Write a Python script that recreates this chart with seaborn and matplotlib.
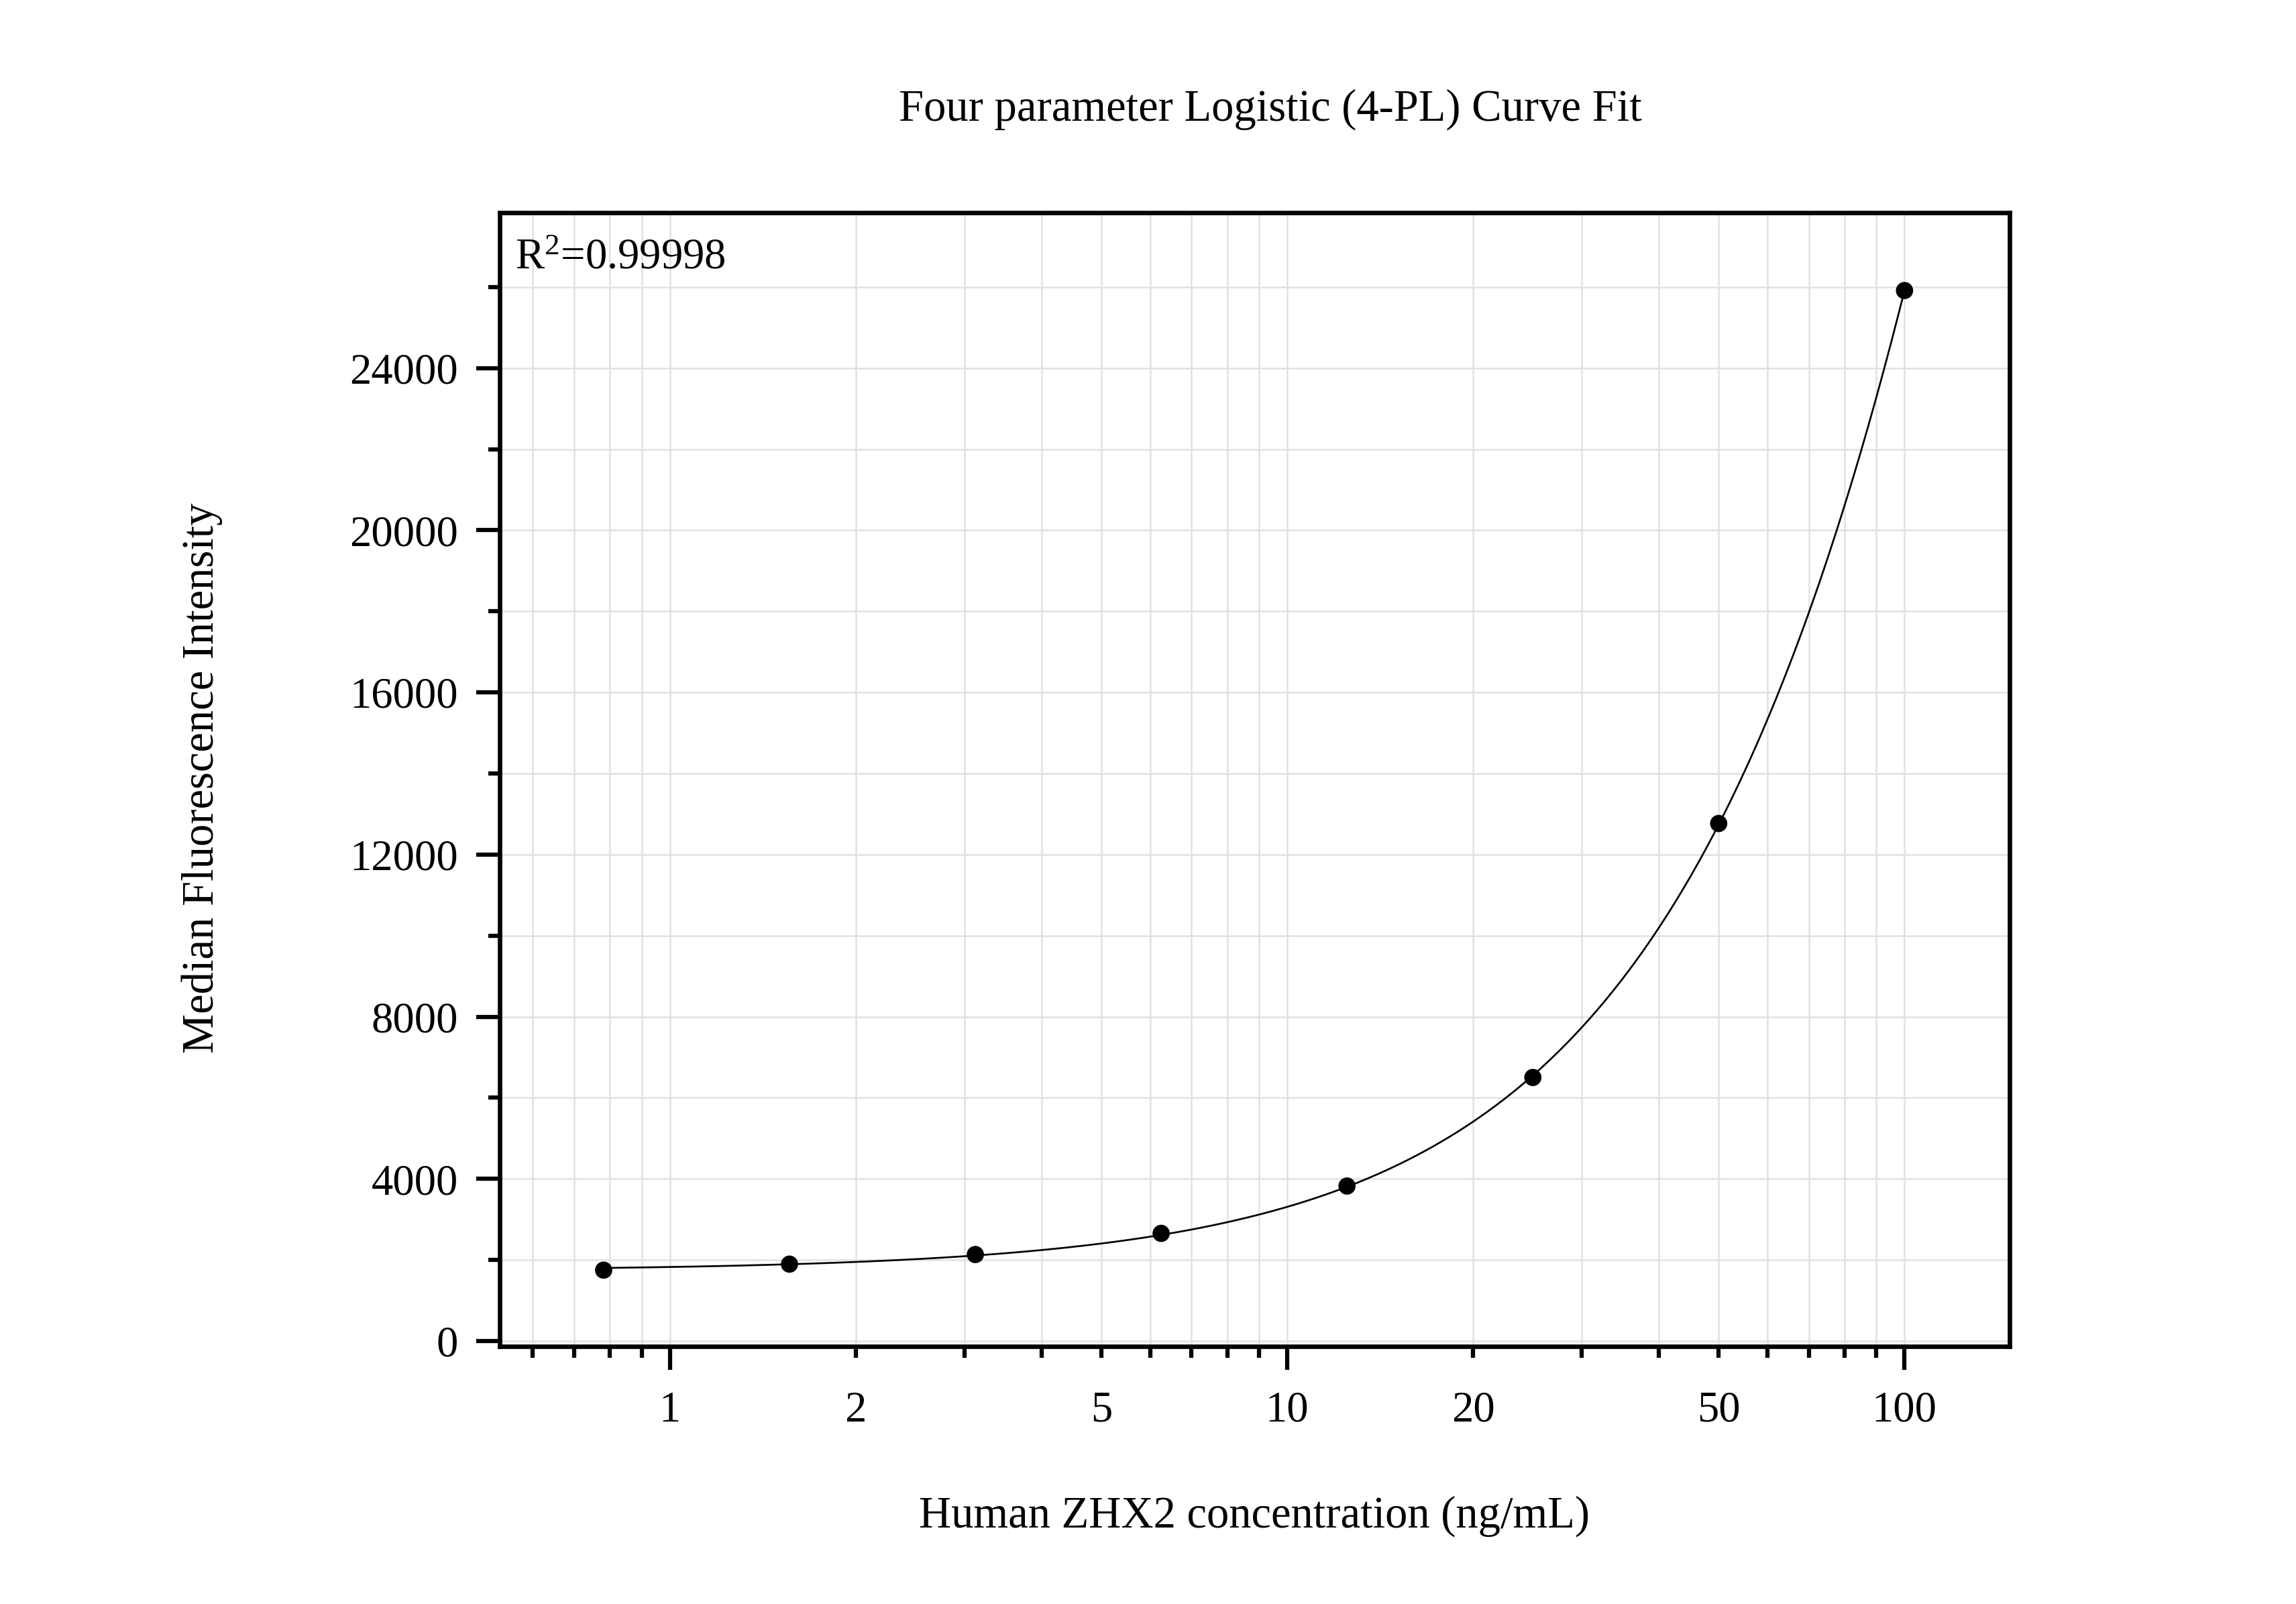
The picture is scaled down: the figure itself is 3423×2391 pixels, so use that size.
import numpy as np
import pandas as pd
import matplotlib
matplotlib.use("Agg")
import matplotlib.pyplot as plt
import seaborn as sns
from matplotlib.ticker import FixedLocator, FixedFormatter, MultipleLocator, StrMethodFormatter

# ---------------- data ----------------
concentration = [0.78125, 1.5625, 3.125, 6.25, 12.5, 25, 50, 100]
mfi = [1750, 1898, 2135, 2657, 3824, 6502, 12767, 25912]

x_major_ticks = [1, 10, 100]
x_minor_ticks = [0.6, 0.7, 0.8, 0.9, 2, 3, 4, 5, 6, 7, 8, 9,
                 20, 30, 40, 50, 60, 70, 80, 90]
x_minor_labelled = [2, 5, 20, 50]
y_major_ticks = [0, 4000, 8000, 12000, 16000, 20000, 24000]

title = "Four parameter Logistic (4-PL) Curve Fit"
xlabel = "Human ZHX2 concentration (ng/mL)"
ylabel = "Median Fluorescence Intensity"
r2_label = "R$^{2}$=0.99998"


# ---------------- 4-PL fit of the points ----------------
def fit_4pl(x, y):
    x = np.asarray(x, float)
    y = np.asarray(y, float)
    logx = np.log(x)
    lc_grid = np.linspace(np.log(0.5), np.log(1e5), 500)
    b_grid = np.linspace(0.5, 3.0, 401)
    LC, B = np.meshgrid(lc_grid, b_grid, indexing="ij")
    u = np.exp(B[..., None] * (logx[None, None, :] - LC[..., None]))
    p = 1.0 / (1.0 + u)
    q = 1.0 - p
    Spp = (p * p).sum(-1); Spq = (p * q).sum(-1); Sqq = (q * q).sum(-1)
    Spy = (p * y).sum(-1); Sqy = (q * y).sum(-1)
    det = Spp * Sqq - Spq ** 2
    with np.errstate(all="ignore"):
        a = (Spy * Sqq - Sqy * Spq) / det
        d = (Sqy * Spp - Spy * Spq) / det
        sse = ((a[..., None] * p + d[..., None] * q - y) ** 2).sum(-1)
    sse = np.where(np.isfinite(sse), sse, np.inf)
    i = np.unravel_index(np.argmin(sse), sse.shape)
    return a[i], d[i], np.exp(LC[i]), B[i]


A_, D_, C_, B_ = fit_4pl(concentration, mfi)


def four_pl(x):
    return D_ + (A_ - D_) / (1.0 + (np.asarray(x) / C_) ** B_)


curve_x = np.geomspace(min(concentration), max(concentration), 500)
curve_df = pd.DataFrame({"x": curve_x, "y": four_pl(curve_x)})
pts_df = pd.DataFrame({"x": concentration, "y": mfi})

# ---------------- style ----------------
sns.set_theme(style="white")
plt.rcParams["font.family"] = ["Liberation Serif", "DejaVu Serif"]
plt.rcParams["mathtext.fontset"] = "custom"
plt.rcParams["mathtext.rm"] = "Liberation Serif"
plt.rcParams["mathtext.it"] = "Liberation Serif:italic"
plt.rcParams["text.color"] = "black"
plt.rcParams["axes.labelcolor"] = "black"
plt.rcParams["xtick.color"] = "black"
plt.rcParams["ytick.color"] = "black"

W, H, DPI = 3423, 2391, 300
fig = plt.figure(figsize=(W / DPI, H / DPI), dpi=DPI)
fig.patch.set_facecolor("white")
ax = fig.add_axes([0.2176, 0.1607, 0.8752 - 0.2176, 0.8675 - 0.1607])
ax.set_facecolor("white")
ax.set_xscale("log")

sns.lineplot(data=curve_df, x="x", y="y", ax=ax, color="black", lw=0.65,
             sort=False, estimator=None, zorder=3)
sns.scatterplot(data=pts_df, x="x", y="y", ax=ax, color="black", s=38,
                edgecolor="none", zorder=4)

ax.set_xlim(0.53, 147.9)
ax.set_ylim(-127, 27836)

# x ticks
ax.xaxis.set_major_locator(FixedLocator(x_major_ticks))
ax.xaxis.set_major_formatter(FixedFormatter([str(v) for v in x_major_ticks]))
ax.xaxis.set_minor_locator(FixedLocator(x_minor_ticks))
ax.xaxis.set_minor_formatter(FixedFormatter(
    [str(v) if v in x_minor_labelled else "" for v in x_minor_ticks]))

# y ticks
ax.yaxis.set_major_locator(FixedLocator(y_major_ticks))
ax.yaxis.set_major_formatter(StrMethodFormatter("{x:.0f}"))
ax.yaxis.set_minor_locator(MultipleLocator(2000))

maj_len, min_len = 8.4, 4.0
tick_fs = 15.5
ax.tick_params(axis="both", which="major", direction="out", length=maj_len,
               width=1.5, color="black", labelsize=tick_fs, labelcolor="black")
ax.tick_params(axis="both", which="minor", direction="out", length=min_len,
               width=1.5, color="black", labelsize=tick_fs, labelcolor="black")
ax.tick_params(axis="x", which="major", pad=7.5)
ax.tick_params(axis="x", which="minor", pad=7.5 + maj_len - min_len)
ax.tick_params(axis="y", which="major", pad=6.5)
ax.tick_params(which="both", bottom=True, left=True, top=False, right=False,
               labelbottom=True, labelleft=True)

for s in ax.spines.values():
    s.set_visible(True)
    s.set_color("black")
    s.set_linewidth(1.6)

ax.grid(True, which="both", axis="both", color="#e1e1e1", lw=0.6, zorder=0)
ax.set_axisbelow(True)

ax.set_xlabel("")
ax.set_ylabel("")

lab_fs = 16
fig.text(0.5533, 0.925, title, ha="center", va="baseline", fontsize=lab_fs,
         color="black")
fig.text(0.5463, 0.048, xlabel, ha="center", va="baseline", fontsize=lab_fs,
         color="black")
fig.text(0.0879, 0.515, ylabel, ha="center", va="center", rotation=90,
         fontsize=lab_fs, color="black")
ax.text(0.0101, 0.9503, r2_label, transform=ax.transAxes, ha="left",
        va="baseline", fontsize=tick_fs, color="black")

fig.savefig("out.png", dpi=DPI, facecolor="white")
